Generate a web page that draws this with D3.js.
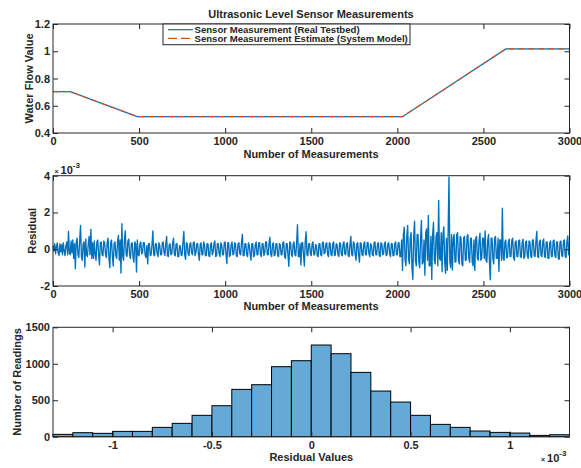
<!DOCTYPE html>
<html><head><meta charset="utf-8">
<script src="https://cdn.jsdelivr.net/npm/d3@7"></script>
<style>
body{margin:0;background:#fff}
text{font-family:"Liberation Sans",Arial,Helvetica,sans-serif;font-weight:bold;fill:#262626}
</style>
</head><body>
<svg id="c" width="581" height="468"></svg>
<script>
// ---------- data ----------
const flowMeasurement = [0, 100, 490, 2030, 2630, 3000];
const flowReal = [0.703, 0.703, 0.52, 0.52, 1.017, 1.017];
const flowEstimate = [0.703, 0.703, 0.52, 0.52, 1.017, 1.017];

const residualStep = 5; // measurements between residual samples
const residualE3 = [
 0.2,-0.1,0.3,-0.25,0.15,0.35,-0.2,-0.35,0.3,-0.15,0.25,-0.3,0.35,-0.1,-0.35,0.2,0.4,-0.3,0.97,-0.2,
 -0.3,0.45,-0.2,0.5,-0.5,0.3,-1.06,0.4,0.6,-0.3,-0.45,0.5,1.3,-0.4,-0.6,0.3,0.4,-0.97,0.55,-0.3,
 -0.4,0.3,0.7,-0.3,1.08,-0.5,0.35,-0.5,0.45,-0.3,-0.6,0.4,0.5,-0.3,-0.85,0.35,0.4,-0.3,-0.35,0.45,
 0.35,-0.3,-0.45,0.4,0.6,-0.5,-1.0,0.35,0.5,-0.4,-0.91,0.3,0.4,-0.35,-0.5,0.45,0.75,-0.6,0.5,-1.3,
 1.39,-0.4,-0.6,0.5,1.0,-0.3,-0.4,0.45,0.55,-0.35,-0.5,0.3,0.35,-0.45,-0.7,0.4,0.3,-1.24,0.5,-0.3,
 -0.35,0.3,0.4,-0.25,-0.2,0.35,0.35,-0.3,-0.45,0.2,-0.8,0.3,0.3,-0.35,-0.3,0.25,0.99,-0.3,-0.35,0.3,
 0.3,-0.25,-0.4,0.35,0.2,-0.3,-0.3,0.35,0.4,-0.2,-0.35,0.3,0.7,-0.35,-0.4,0.25,0.3,-0.3,-0.25,0.35,
 0.6,-0.3,-0.35,0.3,0.3,-0.4,-0.4,0.2,0.15,-0.35,-0.3,0.4,0.97,-0.3,-0.55,0.35,0.3,-0.25,-0.35,0.3,
 0.35,-0.2,-0.3,0.35,0.4,-0.35,-0.2,0.3,0.3,-0.3,-0.6,0.25,0.35,-0.3,-0.3,0.4,0.25,-0.35,-0.35,0.3,
 0.3,-0.35,-0.4,0.25,0.35,-0.3,-0.15,0.3,0.45,-0.4,-0.35,0.3,0.3,-0.25,-0.4,0.35,0.2,-0.3,-0.3,0.35,
 0.4,-0.3,-0.78,0.35,0.35,-0.4,-0.3,0.25,0.4,-0.3,-0.25,0.35,0.3,-0.35,-0.4,0.3,0.35,-0.25,-0.3,0.4,
 0.8,-0.35,-0.35,0.3,0.3,-0.3,-0.4,0.35,0.2,-0.25,-0.6,0.3,0.3,-0.4,-0.35,0.25,0.4,-0.3,-0.3,0.35,
 0.35,-0.3,-0.4,0.3,0.3,-0.35,-0.2,0.4,0.4,-0.3,-0.3,0.35,0.65,-0.3,-0.4,0.25,0.35,-0.35,-0.3,0.3,
 0.3,-0.35,-0.4,0.3,0.25,-0.3,-0.3,0.35,0.4,-0.4,-0.5,0.3,0.3,-0.35,-0.93,0.4,0.35,-0.3,-0.4,0.3,
 0.4,-0.3,-0.35,0.35,1.33,-0.4,-0.4,0.3,-0.85,0.35,0.35,-0.3,-0.91,0.4,0.95,-0.3,-0.35,0.3,0.3,-0.25,
 -0.35,0.3,0.4,-0.3,-0.3,0.25,0.2,-0.35,-0.4,0.3,0.3,-0.3,-0.35,0.35,0.4,-0.25,-0.2,0.3,0.35,-0.3,
 -0.4,0.35,0.3,-0.3,-0.35,0.3,0.4,-0.35,-0.3,0.3,0.25,-0.3,-0.4,0.35,0.3,-0.3,-0.35,0.3,0.4,-0.25,
 -0.3,0.3,0.35,-0.35,-0.4,0.25,0.7,-0.3,-0.35,0.4,0.3,-0.3,-0.6,0.3,0.35,-0.3,-0.7,0.35,0.3,-0.3,
 -0.35,0.3,0.4,-0.3,-0.3,0.35,0.35,-0.25,-0.4,0.3,0.2,-0.3,-0.35,0.35,0.4,-0.3,-0.3,0.3,0.35,-0.35,
 -0.4,0.35,0.3,-0.3,-0.25,0.3,0.4,-0.35,-0.3,0.3,0.35,-0.25,-0.4,0.3,0.3,-0.35,-0.35,0.3,0.4,-0.3,
 -0.3,0.35,0.35,-0.4,-0.4,0.5,-1.15,0.8,1.2,-0.6,-0.9,0.7,1.3,-0.5,-0.8,0.6,0.9,-1.0,-1.64,0.7,
 1.52,-0.6,-0.9,0.8,0.8,-0.7,-1.0,0.6,1.57,-0.8,-0.7,0.5,-1.42,0.9,1.1,-0.6,1.84,-0.9,-0.9,0.7,
 -1.64,0.8,1.47,-0.6,-0.8,0.7,0.9,-0.9,2.66,-0.5,-0.6,0.9,-1.23,0.8,1.22,-0.7,-1.31,0.6,-1.15,0.9,
 3.94,-0.7,-1.0,0.8,-1.13,0.6,0.8,-0.7,-0.7,0.8,0.9,-0.6,-0.8,0.7,0.6,-0.8,-0.9,0.6,0.7,-0.6,
 -0.6,0.7,0.8,-0.5,-0.7,0.6,0.6,-0.7,-0.9,0.5,-1.15,0.6,0.7,-0.5,-0.6,0.5,0.87,-0.6,-0.5,0.6,
 0.6,-0.5,1.0,-0.6,-0.7,0.5,0.8,-0.7,-1.66,0.6,0.6,-0.5,-0.8,0.6,0.7,-0.5,-0.5,0.6,-1.2,0.5,
 0.5,-0.6,2.23,-0.5,-0.6,0.4,0.5,-0.45,-0.45,0.4,0.55,-0.4,-0.4,0.5,0.6,-0.45,-0.6,0.4,0.45,-0.4,
 -0.4,0.45,0.5,-0.4,-0.45,0.35,0.55,-0.5,-0.4,0.4,0.45,-0.35,-0.5,0.45,0.4,-0.4,-0.45,0.5,0.5,-0.35,
 -0.4,0.45,0.97,-0.4,-0.45,0.4,0.5,-0.35,-0.4,0.45,0.55,-0.4,-0.45,0.4,0.4,-0.5,-0.5,0.35,0.45,-0.4,
 -0.4,0.45,0.5,-0.35,-0.45,0.4,0.4,-0.5,-0.55,0.4,0.45,-0.35,-0.4,0.45,0.5,-0.4,-0.45,0.4,0.73,-0.3,
 0.3
];

const histEdgesE3 = [-1.3,-1.2,-1.1,-1.0,-0.9,-0.8,-0.7,-0.6,-0.5,-0.4,-0.3,-0.2,-0.1,0,
  0.1,0.2,0.3,0.4,0.5,0.6,0.7,0.8,0.9,1.0,1.1,1.2,1.3];
const histCounts = [32,55,46,73,73,128,183,293,425,649,713,960,1042,1257,1138,882,626,475,293,169,128,78,59,50,18,27];

const flowTicks = [0.4, 0.6, 0.8, 1, 1.2];
const measTicks = [0, 500, 1000, 1500, 2000, 2500, 3000];
const residTicks = [-2, 0, 2, 4];
const histXTicks = [-1, -0.5, 0, 0.5, 1];
const histYTicks = [0, 500, 1000, 1500];

const legendLabels = ["Sensor Measurement (Real Testbed)", "Sensor Measurement Estimate (System Model)"];

// ---------- drawing ----------
const svg = d3.select("#c");
const AX = "#262626", BLUE = "#0072BD", ORANGE = "#D95319";
const L = 53, R = 569.5;

function frame(top, bottom, x, y, xt, yt) {
  const g = svg.append("g");
  const tk = 5;
  g.append("g").attr("transform", `translate(0,${bottom})`)
    .call(d3.axisBottom(x).tickValues(xt).tickSizeInner(-tk).tickSizeOuter(0).tickPadding(4.5).tickFormat(d => String(d)));
  g.append("g").attr("transform", `translate(0,${top})`)
    .call(d3.axisTop(x).tickValues(xt).tickSizeInner(-tk).tickSizeOuter(0).tickFormat(""));
  g.append("g").attr("transform", `translate(${L},0)`)
    .call(d3.axisLeft(y).tickValues(yt).tickSizeInner(-tk).tickSizeOuter(0).tickPadding(3).tickFormat(d => String(d)));
  g.append("g").attr("transform", `translate(${R},0)`)
    .call(d3.axisRight(y).tickValues(yt).tickSizeInner(-tk).tickSizeOuter(0).tickFormat(""));
  g.selectAll(".domain").remove();
  g.selectAll(".tick line").attr("stroke", AX);
  g.selectAll(".tick text").attr("font-size", 11).attr("font-family", null).attr("fill", AX);
  g.append("rect").attr("x", L).attr("y", top).attr("width", R - L).attr("height", bottom - top)
    .attr("fill", "none").attr("stroke", AX).attr("stroke-width", 1);
  return g;
}

// ---- top: water flow ----
{
  const top = 24, bottom = 133;
  const x = d3.scaleLinear().domain([0, 3000]).range([L, R]);
  const y = d3.scaleLinear().domain([0.4, 1.2]).range([bottom, top]);
  const pts = flowMeasurement.map((m, i) => [m, flowReal[i]]);
  const est = flowMeasurement.map((m, i) => [m, flowEstimate[i]]);
  const line = d3.line().x(d => x(d[0])).y(d => y(d[1]));
  svg.append("path").attr("d", line(pts)).attr("fill", "none").attr("stroke", BLUE).attr("stroke-width", 1.2);
  svg.append("path").attr("d", line(est)).attr("fill", "none").attr("stroke", ORANGE).attr("stroke-width", 1.2).attr("stroke-dasharray", "6,4");
  frame(top, bottom, x, y, measTicks, flowTicks);
  svg.append("text").attr("x", 311).attr("y", 18).attr("text-anchor", "middle").attr("font-size", 11).text("Ultrasonic Level Sensor Measurements");
  svg.append("text").attr("x", 311).attr("y", 157.5).attr("text-anchor", "middle").attr("font-size", 11).text("Number of Measurements");
  svg.append("text").attr("transform", `translate(33,${(top + bottom) / 2}) rotate(-90)`).attr("text-anchor", "middle").attr("font-size", 11).text("Water Flow Value");
  // legend
  const lg = svg.append("g");
  lg.append("rect").attr("x", 163).attr("y", 24).attr("width", 247).attr("height", 20.7).attr("fill", "#fff").attr("stroke", AX).attr("stroke-width", 1);
  lg.append("line").attr("x1", 168).attr("x2", 193).attr("y1", 29.7).attr("y2", 29.7).attr("stroke", BLUE).attr("stroke-width", 1.2);
  lg.append("line").attr("x1", 168).attr("x2", 193).attr("y1", 38.3).attr("y2", 38.3).attr("stroke", ORANGE).attr("stroke-width", 1.2).attr("stroke-dasharray", "9,4");
  lg.append("text").attr("x", 194.5).attr("y", 32.8).attr("font-size", 9.6).text(legendLabels[0]);
  lg.append("text").attr("x", 194.5).attr("y", 41.6).attr("font-size", 9.6).text(legendLabels[1]);
}

// ---- middle: residual ----
{
  const top = 175.7, bottom = 286;
  const x = d3.scaleLinear().domain([0, 3000]).range([L, R]);
  const y = d3.scaleLinear().domain([-2, 4]).range([bottom, top]);
  const line = d3.line().x((d, i) => x(i * residualStep)).y(d => y(d));
  svg.append("path").attr("d", line(residualE3)).attr("fill", "none").attr("stroke", BLUE).attr("stroke-width", 1.35).attr("stroke-linejoin", "round");
  frame(top, bottom, x, y, measTicks, residTicks);
  svg.append("text").attr("x", 311).attr("y", 309.5).attr("text-anchor", "middle").attr("font-size", 11).text("Number of Measurements");
  svg.append("text").attr("transform", `translate(36,${(top + bottom) / 2}) rotate(-90)`).attr("text-anchor", "middle").attr("font-size", 11).text("Residual");
  const ex = svg.append("text").attr("x", 54.5).attr("y", 174).attr("font-size", 11);
  ex.append("tspan").attr("font-size", 7).text("× ");
  ex.append("tspan").text("10");
  ex.append("tspan").attr("font-size", 8).attr("dy", -6).text("-3");
}

// ---- bottom: histogram ----
{
  const top = 327.3, bottom = 436.7;
  const x = d3.scaleLinear().domain([-1.3, 1.3]).range([L, R]);
  const y = d3.scaleLinear().domain([0, 1500]).range([bottom, top]);
  svg.append("g").selectAll("rect").data(histCounts).join("rect")
    .attr("x", (d, i) => x(histEdgesE3[i]))
    .attr("width", (d, i) => x(histEdgesE3[i + 1]) - x(histEdgesE3[i]))
    .attr("y", d => y(d)).attr("height", d => y(0) - y(d))
    .attr("fill", "#65A9D7").attr("stroke", "#000").attr("stroke-width", 1);
  frame(top, bottom, x, y, histXTicks, histYTicks);
  svg.append("text").attr("x", 311.3).attr("y", 460.5).attr("text-anchor", "middle").attr("font-size", 11).text("Residual Values");
  svg.append("text").attr("transform", `translate(20.5,${(top + bottom) / 2}) rotate(-90)`).attr("text-anchor", "middle").attr("font-size", 11).text("Number of Readings");
  const ex = svg.append("text").attr("x", 541).attr("y", 461.7).attr("font-size", 11);
  ex.append("tspan").attr("font-size", 7).text("× ");
  ex.append("tspan").text("10");
  ex.append("tspan").attr("font-size", 8).attr("dy", -6).text("-3");
}
</script>
</body></html>
